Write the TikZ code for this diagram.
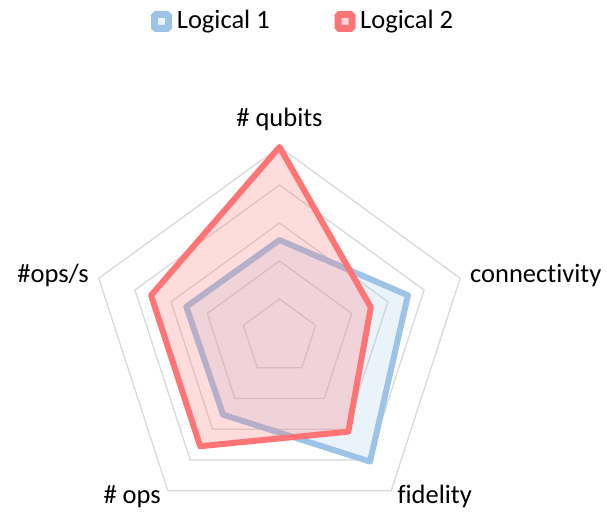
\documentclass[tikz,border=0pt]{standalone}
\usepackage{fontspec}
\setmainfont[Ligatures={NoCommon}]{Carlito}
\definecolor{redline}{RGB}{255,117,117}
\definecolor{blueline}{RGB}{157,195,230}
\definecolor{gridgray}{RGB}{217,217,217}
\begin{document}
\begin{tikzpicture}[x=1pt,y=1pt,
  gridline/.style={draw=gridgray,line width=1.3pt,line join=miter},
  series1/.style={draw=blueline,line width=6pt,line join=round,fill=blueline,fill opacity=0.2,draw opacity=1},
  series2/.style={draw=redline,line width=6pt,line join=round,fill=redline,fill opacity=0.25,draw opacity=1},
  axlabel/.style={inner sep=0pt,font=\fontsize{26.5}{30}\selectfont},
  legmark/.style={minimum size=14pt,inner sep=0pt,line width=7pt,rounded corners=1.5pt},
]
\useasboundingbox (0,0) rectangle (607,511);
\coordinate (O) at (279.5,174);
% grid
\foreach \r in {38,76,114,152,190}
  \draw[gridline,shift={(O)}] (90:\r) -- (18:\r) -- (-54:\r) -- (-126:\r) -- (162:\r) -- cycle;
% series 1 (blue)
\draw[series1,shift={(O)}] (90:97) -- (18:135) -- (-54:154) -- (-126:96) -- (162:98) -- cycle;
% series 2 (red)
\draw[series2,shift={(O)}] (90:190) -- (18:96) -- (-54:117) -- (-126:135) -- (162:135) -- cycle;
% axis labels
\node[axlabel,anchor=base] (lq) at (279.5,384.3) {\# qubits};
\node[axlabel,anchor=base west] (lc) at (470,228) {connectivity};
\node[axlabel,anchor=base east] (ls) at (89,228) {\#ops/s};
\node[axlabel,anchor=base west] (lo) at (103.3,8) {\# ops};
\node[axlabel,anchor=base west] (lf) at (397.3,8) {fidelity};
% legend
\node[legmark,draw=blueline,fill=blueline!20] (m1) at (161.5,489.5) {};
\node[axlabel,anchor=base west] (t1) at (176.7,482.7) {Logical 1};
\node[legmark,draw=redline,fill=redline!30] (m2) at (345,489.5) {};
\node[axlabel,anchor=base west] (t2) at (360,482.7) {Logical 2};
\end{tikzpicture}
\end{document}
